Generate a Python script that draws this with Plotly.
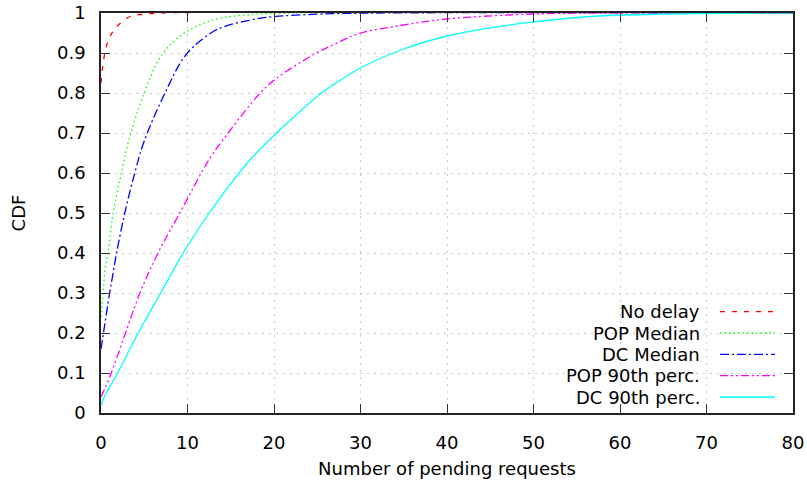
import plotly.graph_objects as go

# ---- data ----
names = ["No delay", "POP Median", "DC Median", "POP 90th perc.", "DC 90th perc."]
colors = ["#ff0000", "#00ff00", "#0000ff", "#ff00ff", "#00ffff"]
dashes = ["5px,7px", "1.5px,3px", "9px,3px,2px,3px", "8px,3px,2px,3px,2px,3px", "solid"]

red_x = [0, 0.4, 1.0, 2.0, 3.5, 5.0, 7.0, 80]
red_y = [0.825, 0.895, 0.94, 0.97, 0.9925, 0.997, 1.0, 1.0]

green_x = [0, 0.25, 0.45, 0.8, 1.4, 2.35, 3.2, 5.0, 7.0, 9.3, 11.6, 14, 18, 22, 80]
green_y = [0.24, 0.30, 0.3575, 0.40, 0.50, 0.60, 0.68, 0.80, 0.895, 0.945, 0.972, 0.988, 0.997, 1.0, 1.0]

blue_x = [0, 0.25, 1.0, 1.4, 1.8, 2.75, 3.9, 5.0, 7.4, 9.8, 12.7, 14.5, 17.2, 19.5, 25, 32, 80]
blue_y = [0.16, 0.195, 0.30, 0.35, 0.40, 0.50, 0.60, 0.68, 0.80, 0.895, 0.95, 0.968, 0.982, 0.99, 0.997, 1.0, 1.0]

mag_x = [0, 1.1, 2.75, 4.5, 6.6, 9.1, 12.6, 14.7, 18.4, 20.3, 24.9, 27.2, 29.9, 35, 40, 50, 60, 80]
mag_y = [0.04, 0.095, 0.195, 0.30, 0.40, 0.50, 0.637, 0.70, 0.80, 0.837, 0.90, 0.924, 0.949, 0.97, 0.985, 0.9975, 1.0, 1.0]

cyan_x = [0, 0.6, 1.8, 4.3, 6.9, 9.5, 12.2, 14.8, 17.4, 20.3, 25.5, 27.4, 30, 35, 40, 45, 50, 57.5, 65, 75, 80]
cyan_y = [0.02, 0.05, 0.095, 0.20, 0.30, 0.40, 0.49, 0.568, 0.637, 0.70, 0.80, 0.828, 0.8625, 0.91, 0.9425, 0.963, 0.978, 0.9925, 0.997, 1.0, 1.0]

x_ticks = [0, 10, 20, 30, 40, 50, 60, 70, 80]
y_ticks = [0, 0.1, 0.2, 0.3, 0.4, 0.5, 0.6, 0.7, 0.8, 0.9, 1.0]
y_ticktext = ["0", "0.1", "0.2", "0.3", "0.4", "0.5", "0.6", "0.7", "0.8", "0.9", "1"]

series = [(red_x, red_y), (green_x, green_y), (blue_x, blue_y), (mag_x, mag_y), (cyan_x, cyan_y)]

FONT = "DejaVu Sans"
fig = go.Figure()
for (xs, ys), n, c, d in zip(series, names, colors, dashes):
    fig.add_trace(go.Scatter(x=xs, y=ys, mode="lines", name=n,
                             line=dict(color=c, width=1.3, dash=d, shape="spline", smoothing=1.0),
                             showlegend=False))

# custom gnuplot-style legend (text right, sample to the right)
leg_y = [0.2533, 0.2, 0.1468, 0.0935, 0.04]
for n, c, d, yy in zip(names, colors, dashes, leg_y):
    fig.add_annotation(x=0.8685, y=yy, xref="paper", yref="paper", text=n,
                       showarrow=False, xanchor="right", yanchor="middle",
                       font=dict(family=FONT, size=18, color="black"))
    fig.add_shape(type="line", xref="paper", yref="paper", x0=0.8945, x1=0.974, y0=yy, y1=yy,
                  line=dict(color=c, width=1.3, dash=d))

axis_common = dict(showline=True, linecolor="#222222", linewidth=1.5, mirror="allticks",
                   ticks="inside", ticklen=9, tickcolor="#333333", tickwidth=1,
                   showgrid=True, gridcolor="#c8c8c8", griddash="2px,5px", gridwidth=1,
                   zeroline=False, automargin=False,
                   tickfont=dict(family=FONT, size=18, color="black"))

fig.update_xaxes(range=[0, 80], tickvals=x_ticks, ticktext=[str(v) for v in x_ticks],
                 ticklabelstandoff=13,
                 title=dict(text="Number of pending requests", font=dict(family=FONT, size=18, color="black"), standoff=10),
                 **axis_common)
fig.update_yaxes(range=[0, 1], tickvals=y_ticks, ticktext=y_ticktext,
                 ticklabelstandoff=10,
                 title=dict(text="CDF", font=dict(family=FONT, size=18, color="black"), standoff=27),
                 **axis_common)

fig.update_layout(width=807, height=483, margin=dict(l=101, r=14, t=13, b=70),
                  plot_bgcolor="white", paper_bgcolor="white",
                  font=dict(family=FONT, size=18, color="black"))

# remove the browser's default 8px body margin so the figure fills the window exactly
fig.write_html("out.html", config={"displayModeBar": False},
               post_script="document.body.style.margin='0';")
